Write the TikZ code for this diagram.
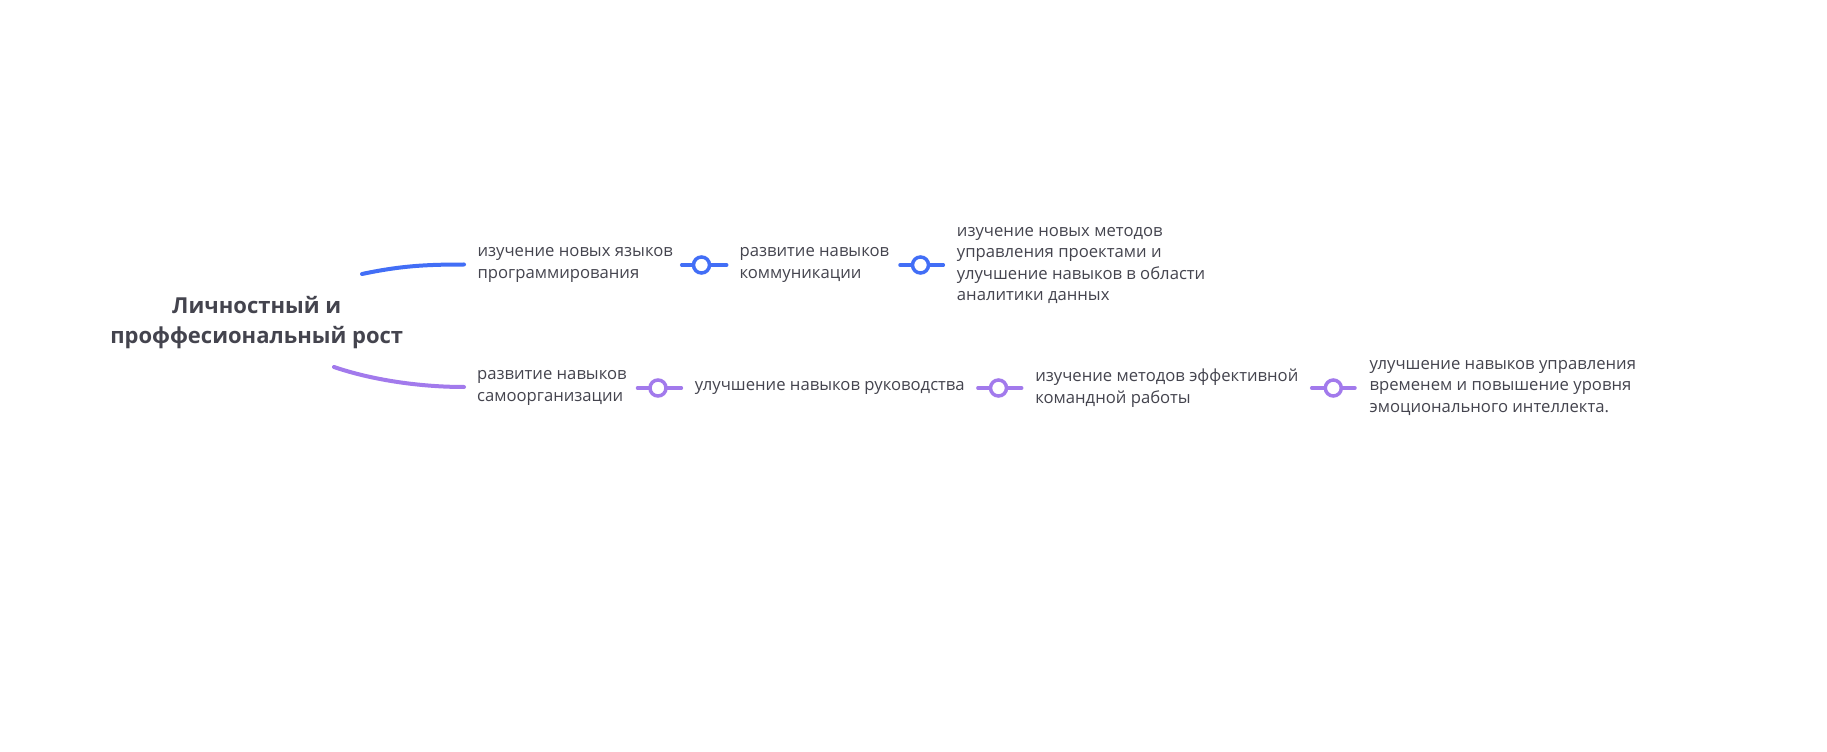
\documentclass[tikz,border=0pt]{standalone}
\usepackage{fontspec}
\setmainfont{Open Sans}
\definecolor{bblue}{RGB}{66,110,246}
\definecolor{ppurple}{RGB}{162,122,236}
\definecolor{txt}{RGB}{68,68,78}
\begin{document}
\begin{tikzpicture}[x=0.75pt,y=-0.75pt,
  leaf/.style={anchor=west,inner sep=0pt,align=left,text=txt,font=\fontsize{12.5pt}{16.1pt}\selectfont},
  rootbox/.style={inner sep=0pt,align=center,text=txt,font=\fontsize{16.5pt}{22.5pt}\selectfont\bfseries},
  link/.style={line width=3pt,line cap=round},
  conn/.style={line width=2.6pt,line cap=round},
  knob/.style={circle,draw,line width=2.6pt,fill=white,minimum size=12pt,inner sep=0pt}]
\useasboundingbox (0,0) rectangle (1827,752);
\fill[white] (0,0) rectangle (1827,752);
% root
\node[rootbox] (root) at (256.7,322.5) {Личностный и\\проффесиональный рост};
% top branch
\node[leaf] (t1) at (477.3,265) {изучение новых языков\\программирования};
\node[leaf] (t2) at (739.3,265) {развитие навыков\\коммуникации};
\node[leaf] (t3) at (956.7,265.5) {изучение новых методов\\управления проектами и\\улучшение навыков в области\\аналитики данных};
% bottom branch
\node[leaf] (b1) at (476.8,388) {развитие навыков\\самоорганизации};
\node[leaf] (b2) at (694.6,388) {улучшение навыков руководства};
\node[leaf] (b3) at (1035,388) {изучение методов эффективной\\командной работы};
\node[leaf] (b4) at (1369.3,388) {улучшение навыков управления\\временем и повышение уровня\\эмоционального интеллекта.};
% root links
\coordinate (rs1) at (362,274);
\coordinate (re1) at (464,264.5);
\coordinate (rs2) at (334,367);
\coordinate (re2) at (464,387);
\draw[link,bblue] (rs1) .. controls (400,266) and (425,264.5) .. (re1);
\draw[link,ppurple] (rs2) .. controls (372,380) and (420,387) .. (re2);
% top connectors
\coordinate (a1) at (681.7,265); \coordinate (a2) at (726.7,265);
\coordinate (a3) at (900,265); \coordinate (a4) at (943.3,265);
\draw[conn,bblue] (a1) -- (a2);
\draw[conn,bblue] (a3) -- (a4);
\node[knob,draw=bblue] (k1) at (701.5,265) {};
\node[knob,draw=bblue] (k2) at (920.5,265) {};
% bottom connectors
\coordinate (p1) at (637.5,388); \coordinate (p2) at (681.4,388);
\coordinate (p3) at (977.9,388); \coordinate (p4) at (1021.7,388);
\coordinate (p5) at (1311.7,388); \coordinate (p6) at (1355,388);
\draw[conn,ppurple] (p1) -- (p2);
\draw[conn,ppurple] (p3) -- (p4);
\draw[conn,ppurple] (p5) -- (p6);
\node[knob,draw=ppurple] (k3) at (658,388) {};
\node[knob,draw=ppurple] (k4) at (998.5,388) {};
\node[knob,draw=ppurple] (k5) at (1333.3,388) {};
\end{tikzpicture}
\end{document}
